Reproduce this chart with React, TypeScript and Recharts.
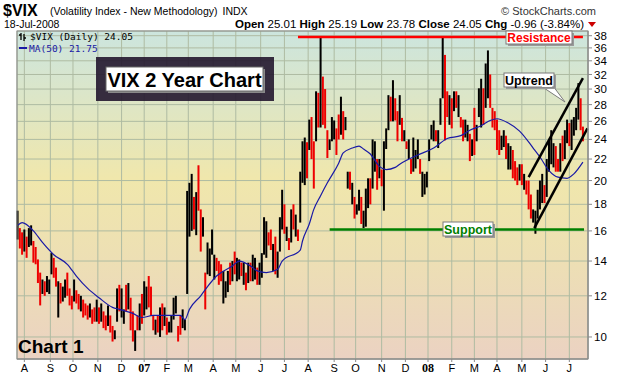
import React from 'react';
import { ComposedChart, Bar, Line, XAxis, YAxis, CartesianGrid, ReferenceLine } from 'recharts';

// One bar per two trading days (Jul-2006 .. 18-Jul-2008); highs and lows of $VIX
const HI = [
  17.5, 16.2, 15.9, 16.1, 15.6, 16.2, 16.4, 15.3, 14.9, 14.1,
  13.3, 12.9, 12.8, 13.1, 12.9, 14.5, 14.2, 13.6, 12.8, 12.7,
  12.5, 12.9, 13.3, 12.4, 12.0, 12.9, 12.3, 12.1, 12.0, 11.8,
  11.6, 11.5, 11.6, 11.3, 11.4, 11.8, 11.4, 11.6, 11.2, 11.0,
  11.5, 11.0, 10.5, 10.3, 12.4, 12.6, 12.4, 11.3, 12.6, 12.7,
  11.9, 11.2, 10.3, 11.0, 11.6, 12.1, 12.8, 12.5, 13.1, 12.5,
  11.0, 10.8, 11.0, 11.4, 11.6, 11.4, 10.9, 10.7, 11.0, 11.9,
  12.0, 10.5, 11.0, 11.3, 10.8, 19.1, 19.8, 20.6, 18.6, 19.0,
  21.4, 17.6, 17.0, 13.3, 15.2, 14.8, 16.1, 14.4, 14.2, 14.0,
  13.8, 13.4, 12.8, 13.4, 13.9, 14.0, 14.6, 14.2, 14.1, 13.9,
  13.9, 13.3, 13.9, 13.9, 14.4, 14.2, 13.6, 13.9, 14.5, 17.0,
  16.7, 15.9, 16.1, 15.1, 15.6, 14.6, 17.0, 19.2, 18.0, 16.3,
  15.5, 17.6, 18.0, 17.2, 16.1, 20.8, 23.8, 24.2, 23.7, 26.2,
  26.5, 23.8, 29.7, 29.5, 37.7, 31.7, 30.0, 25.0, 24.0, 26.5,
  26.1, 25.2, 26.8, 29.0, 27.2, 26.5, 20.8, 20.8, 19.8, 18.6,
  18.0, 19.2, 18.6, 17.5, 19.3, 20.2, 20.2, 24.0, 23.8, 22.0,
  22.0, 21.0, 23.8, 25.2, 29.2, 29.0, 31.2, 28.8, 27.2, 29.2,
  26.4, 25.0, 23.8, 24.0, 22.0, 24.2, 22.9, 24.0, 22.0, 20.8,
  20.6, 20.8, 24.0, 25.6, 26.1, 25.0, 25.0, 28.8, 37.7, 34.9,
  29.7, 29.2, 28.8, 29.7, 29.7, 29.2, 26.5, 26.2, 26.2, 25.6,
  24.6, 24.0, 27.6, 25.6, 30.1, 31.4, 30.1, 33.6, 35.6, 32.0,
  27.6, 27.2, 26.2, 25.0, 24.4, 25.0, 24.4, 23.6, 23.3, 22.9,
  21.8, 21.2, 21.5, 21.5, 20.6, 20.0, 20.0, 18.8, 17.6, 17.5,
  19.2, 20.0, 20.6, 19.6, 22.0, 24.0, 25.0, 23.6, 23.3, 22.0,
  23.6, 24.4, 25.0, 26.2, 25.8, 26.2, 26.5, 27.6, 30.8, 28.8,
  25.4,
];
const LO = [
  15.4, 14.8, 14.4, 14.6, 14.2, 14.9, 15.0, 13.9, 13.8, 12.7,
  11.5, 12.1, 12.0, 12.2, 12.1, 13.2, 13.0, 12.5, 10.9, 11.6,
  11.7, 11.9, 12.0, 11.5, 11.3, 11.7, 11.6, 11.3, 11.2, 10.9,
  11.0, 10.8, 10.9, 10.6, 10.7, 10.7, 10.6, 10.7, 10.4, 10.3,
  10.5, 10.2, 9.8, 9.9, 10.7, 11.2, 10.9, 10.6, 11.2, 11.3,
  10.3, 9.8, 9.4, 10.3, 10.3, 10.6, 11.0, 11.3, 11.4, 11.0,
  10.3, 10.1, 10.2, 10.0, 10.3, 10.5, 10.1, 10.2, 10.2, 10.8,
  11.1, 9.8, 10.1, 10.4, 10.3, 12.1, 15.6, 16.0, 16.1, 15.7,
  17.5, 14.6, 15.6, 11.3, 13.2, 13.1, 14.4, 12.9, 13.4, 12.6,
  12.8, 11.6, 11.9, 12.2, 12.6, 12.8, 13.2, 12.8, 12.9, 13.1,
  12.6, 12.3, 12.7, 12.8, 12.8, 12.9, 12.6, 12.6, 13.0, 14.4,
  14.2, 15.0, 14.7, 13.4, 13.2, 13.0, 14.6, 16.1, 15.8, 15.3,
  14.7, 15.2, 16.1, 15.6, 15.3, 16.6, 19.8, 19.6, 20.2, 22.9,
  22.0, 19.3, 23.8, 25.3, 25.3, 25.6, 25.2, 22.1, 22.9, 23.8,
  24.0, 22.4, 24.0, 24.5, 24.0, 25.0, 19.3, 19.2, 18.0, 16.9,
  17.2, 17.5, 16.5, 16.2, 16.3, 17.7, 18.0, 19.3, 20.8, 19.2,
  20.2, 19.5, 17.5, 23.0, 25.0, 26.0, 26.0, 26.1, 23.8, 25.6,
  23.8, 23.8, 23.0, 22.0, 20.6, 20.8, 21.1, 22.0, 20.6, 18.6,
  18.8, 19.4, 21.8, 24.0, 23.8, 23.8, 23.1, 25.6, 28.8, 23.9,
  26.5, 25.6, 25.2, 27.2, 27.6, 26.5, 25.3, 23.8, 24.2, 23.8,
  21.8, 22.3, 22.4, 23.8, 26.5, 25.3, 25.6, 27.6, 28.8, 27.6,
  25.3, 25.0, 22.9, 22.4, 22.9, 23.2, 22.0, 21.0, 21.0, 20.2,
  20.0, 19.6, 20.0, 19.6, 19.2, 18.8, 17.6, 16.9, 16.6, 15.8,
  16.9, 17.6, 18.1, 18.1, 18.6, 20.8, 21.5, 21.2, 20.8, 20.8,
  20.8, 21.8, 22.0, 23.6, 23.3, 22.9, 24.4, 25.0, 26.2, 25.0,
  23.8,
];
// r = close below previous close (red), k = up (black)
const DIR =
  'krrkrkkrrr' + 'rkrkkkrrkr' + 'kkrrrkrrkr' + 'rrkrrkrkrr' + 'krrkkrkkrk' +
  'rrkrkrkkrr' + 'rkrkrkrkkk' + 'krrkkkkkrk' + 'rrkrkkkkrr' + 'rkkkrkrkkr' +
  'krkrkkrkkk' + 'krrkrkkkrk' + 'rkrkrkkkrk' + 'rrkrkrrrkk' + 'krrkrkkrkr' +
  'kkrkkkrkkr' + 'krkkkrkrrk' + 'rkrkrkkkrk' + 'kkkkkrkkkr' + 'rkrkrkrrkk' +
  'rkrkkkrkkr' + 'rrrrkkrkkr' + 'rrkrkrrrkk' + 'kkkrkkkkrr' + 'krkkrkkkkr' + 'r';

// MA(50): [bar index, value]
const MA_POINTS: [number, number][] = [
  [0, 16.4], [2, 16.6], [7, 16.0], [11, 15.2], [16, 14.4], [22, 13.8], [26, 13.1],
  [31, 12.4], [36, 11.9], [42, 11.4], [45, 11.3], [51, 11.1], [55, 10.9], [60, 11.0],
  [66, 11.0], [72, 11.0], [74, 10.8], [76, 11.3], [81, 12.0], [84, 12.5], [88, 13.1],
  [95, 13.7], [98, 14.0], [103, 13.7], [106, 13.4], [110, 13.3], [115, 13.5], [117, 14.0],
  [125, 14.7], [126, 15.3], [129, 16.5], [131, 17.6], [134, 18.7], [137, 19.8], [142, 21.6],
  [144, 22.6], [148, 23.1], [151, 23.3], [153, 23.0], [156, 22.5], [160, 21.3], [163, 21.0],
  [167, 21.2], [169, 21.5], [177, 22.4], [184, 23.1], [190, 24.1], [196, 24.4], [200, 25.0],
  [205, 25.5], [209, 26.1], [212, 26.3], [217, 25.8], [222, 24.9], [228, 23.1], [231, 22.2],
  [235, 20.9], [239, 20.3], [243, 20.2], [246, 20.6], [250, 21.7],
];

const TOTAL_DAYS = 505; // trading-day slots on the axis
const MONTH_START_DAYS = [6, 29, 49, 71, 92, 112, 132, 151, 173, 193, 215, 236, 257, 280, 299, 322, 343, 363, 384, 404, 424, 446, 467, 488];
const MONTH_LABELS = ['A', 'S', 'O', 'N', 'D', '07', 'F', 'M', 'A', 'M', 'J', 'J', 'A', 'S', 'O', 'N', 'D', '08', 'F', 'M', 'A', 'M', 'J', 'J'];
const Y_TICKS = [10, 12, 14, 16, 18, 20, 22, 24, 26, 28, 30, 32, 34, 36, 38];

const RESISTANCE = { from: 248, to: 500, value: 37.8 };
const SUPPORT = { from: 276, to: 501, value: 16.1 };
const TREND_UPPER = [{ x: 452, y: 20.3 }, { x: 500, y: 31.5 }];
const TREND_LOWER = [{ x: 457, y: 16.2 }, { x: 504, y: 25.2 }];

const maMap = new Map<number, number>(MA_POINTS.map(([k, v]) => [k, v]));
const rows = Array.from({ length: TOTAL_DAYS }, (_, d) => {
  const k = d / 2;
  const has = d % 2 === 0 && k < HI.length;
  return {
    d,
    range: has ? [LO[k], HI[k]] : null,
    down: has ? DIR[k] === 'r' : false,
    ma: has && maMap.has(k) ? maMap.get(k) : null,
  };
});

const SANS = 'Liberation Sans, Arial, sans-serif';

const BarShape = (props: any) => {
  const { x, y, width, height, payload } = props;
  if (!payload || !payload.range || !isFinite(y) || !isFinite(height)) return <g />;
  const top = Math.min(y, y + height);
  const h = Math.max(1, Math.abs(height));
  const cx = x + width / 2;
  return <rect x={cx - 1} y={top} width={2} height={h} fill={payload.down ? '#ee0000' : '#000000'} />;
};

const MonthTick = (props: any) => {
  const { x, y, payload } = props;
  const i = MONTH_START_DAYS.indexOf(payload.value);
  const label = MONTH_LABELS[i] ?? '';
  const yr = label === '07' || label === '08';
  return (
    <text x={x} y={y} dy={8} textAnchor="middle" fill="#000"
      fontSize={yr ? 12 : 11} fontWeight={yr ? 'bold' : 'normal'}
      fontFamily={yr ? 'Liberation Serif, serif' : SANS}>{label}</text>
  );
};

const Box = ({ x, y, w, h, text, color, size }: any) => (
  <g>
    <rect x={x + 2} y={y + 2} width={w} height={h} fill="#9a9a9a" />
    <rect x={x} y={y} width={w} height={h} fill="#ffffff" stroke="#7a7a7a" strokeWidth={1} />
    <text x={x + w / 2} y={y + h / 2 + size * 0.36} textAnchor="middle" fontFamily={SANS}
      fontWeight="bold" fontSize={size} fill={color}>{text}</text>
  </g>
);

export default function App() {
  return (
    <div style={{ position: 'absolute', left: 0, top: 0, width: 620, height: 376, background: '#ffffff' }}>
      <ComposedChart width={620} height={376} data={rows} margin={{ top: 31, right: 0, left: 17, bottom: 0 }}>
        <defs>
          <linearGradient id="bgGrad" x1="0" y1="0" x2="0" y2="1">
            <stop offset="0%" stopColor="#cce5de" />
            <stop offset="45%" stopColor="#f0e7ac" />
            <stop offset="70%" stopColor="#eddfb4" />
            <stop offset="100%" stopColor="#ebd2c2" />
          </linearGradient>
        </defs>
        <CartesianGrid stroke="#aebba2" fill="url(#bgGrad)" fillOpacity={1} />
        <XAxis dataKey="d" type="category" ticks={MONTH_START_DAYS} interval={0} tick={<MonthTick />}
          height={17} tickSize={3} stroke="#8a8a8a" />
        <YAxis orientation="right" scale="log" domain={[9.07, 38.8]} allowDataOverflow ticks={Y_TICKS}
          interval={0} width={32} tickSize={4} tickMargin={2} stroke="#8a8a8a"
          tick={{ fontSize: 11.5, fill: '#000', fontFamily: SANS }} />
        <Bar dataKey="range" shape={<BarShape />} isAnimationActive={false} />
        <Line dataKey="ma" type="monotone" connectNulls dot={false} stroke="#1a1aa6" strokeWidth={1.2} isAnimationActive={false} />
        <ReferenceLine segment={[{ x: RESISTANCE.from, y: RESISTANCE.value }, { x: RESISTANCE.to, y: RESISTANCE.value }]} stroke="#ff0000" strokeWidth={2.5} />
        <ReferenceLine segment={[{ x: SUPPORT.from, y: SUPPORT.value }, { x: SUPPORT.to, y: SUPPORT.value }]} stroke="#008000" strokeWidth={2.5} />
        <ReferenceLine segment={TREND_UPPER} stroke="#000" strokeWidth={2.5} />
        <ReferenceLine segment={TREND_LOWER} stroke="#000" strokeWidth={2.5} />
      </ComposedChart>
      <svg width={620} height={376} style={{ position: 'absolute', left: 0, top: 0, pointerEvents: 'none' }}>
        {/* header */}
        <text x={3} y={16} fontFamily={SANS} fontWeight="bold" fontSize={16} fill="#000">$VIX</text>
        <text x={50} y={15} fontFamily={SANS} fontSize={10.5} fill="#000">(Volatility Index - New Methodology)<tspan dx={5}>INDX</tspan></text>
        <text x={596} y={15} textAnchor="end" fontFamily={SANS} fontSize={11} fill="#333">© StockCharts.com</text>
        <text x={4} y={28} fontFamily={SANS} fontSize={10.5} fill="#000">18-Jul-2008</text>
        <text x={584} y={27.5} textAnchor="end" fontFamily={SANS} fontSize={11.5} fill="#000">
          <tspan fontWeight="bold">Open</tspan> 25.01 <tspan fontWeight="bold">High</tspan> 25.19 <tspan fontWeight="bold">Low</tspan> 23.78 <tspan fontWeight="bold">Close</tspan> 24.05 <tspan fontWeight="bold">Chg</tspan> -0.96 (-3.84%)
        </text>
        <polygon points="588,22 596,22 592,27" fill="#cc0000" />
        {/* plot frame */}
        <rect x={17} y={31} width={571} height={328} fill="none" stroke="#8a8a8a" strokeWidth={1} />
        {/* legend */}
        <path d="M21 33 V40 M19 35 H21 M24 34 V41 M24 38 H26" stroke="#000" strokeWidth={1.3} fill="none" />
        <text x={30} y={40} fontFamily="DejaVu Sans Mono, monospace" fontSize={9.5} fill="#000">$VIX (Daily) 24.05</text>
        <line x1={19} y1={48} x2={27} y2={48} stroke="#1a1aa6" strokeWidth={2} />
        <text x={29} y={52} fontFamily="DejaVu Sans Mono, monospace" fontSize={9.5} fill="#1a1aa6">MA(50) 21.75</text>
        {/* title box */}
        <rect x={96} y={57} width={178} height={44} fill="#24172f" fillOpacity={0.9} />
        <rect x={108} y={69} width={157} height={24} fill="#8a8a8a" />
        <rect x={106} y={67} width={157} height={24} fill="#ffffff" stroke="#666" />
        <text x={184.5} y={86.5} textAnchor="middle" fontFamily={SANS} fontWeight="bold" fontSize={20} fill="#000">VIX 2 Year Chart</text>
        {/* annotations */}
        <Box x={506} y={31} w={66} h={13} text="Resistance" color="#ff0000" size={12} />
        <Box x={443} y={222} w={50} h={14} text="Support" color="#008000" size={12.5} />
        <polygon points="541,86 553,86 565,102" fill="#ffffff" stroke="#7a7a7a" strokeWidth={1} />
        <Box x={504} y={73} w={50} h={14} text="Uptrend" color="#000" size={12.5} />
        <rect x={542} y={85} width={10} height={2} fill="#ffffff" />
        <text x={18} y={353} fontFamily={SANS} fontWeight="bold" fontSize={19} fill="#000">Chart 1</text>
      </svg>
    </div>
  );
}
